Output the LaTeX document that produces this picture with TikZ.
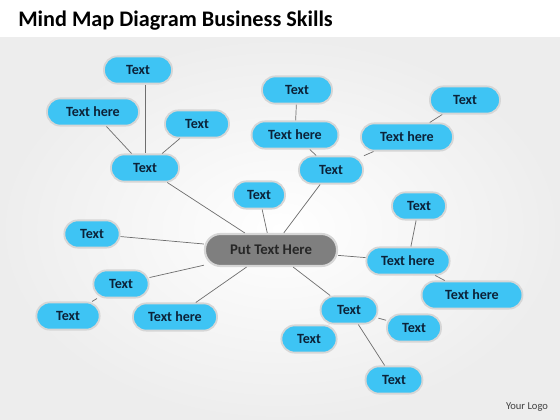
\documentclass[tikz,border=0pt]{standalone}
\usepackage{fontspec}
\setmainfont{Carlito}
\usepackage{tikz}

\definecolor{leafblue}{HTML}{3EC4F4}
\definecolor{leafedge}{HTML}{D6D6D6}
\definecolor{hubgray}{HTML}{7F7F7F}
\definecolor{inktext}{HTML}{0C2238}
\definecolor{linkgray}{HTML}{6E6E6E}

\tikzstyle{leaf} = [rectangle, rounded corners=0.33cm, minimum height=0.68cm, inner xsep=4pt, text centered, draw=leafedge, line width=1.3pt, fill=leafblue, text=inktext, font=\fontsize{10}{11}\selectfont\bfseries]
\tikzstyle{root} = [rectangle, rounded corners=0.39cm, minimum width=3.3cm, minimum height=0.8cm, text centered, draw=leafedge, line width=1.5pt, fill=hubgray, text=black!85, font=\fontsize{10.5}{12}\selectfont\bfseries]
\tikzstyle{link} = [draw=linkgray, line width=0.5pt]

\begin{document}
\begin{tikzpicture}[x=0.025cm, y=-0.025cm]

\useasboundingbox (0,0) rectangle (560,420);
\fill[white] (0,0) rectangle (560,420);
\shade[inner color=white, outer color=gray!14] (0,38) rectangle (560,420);

\node (title) [anchor=base west, inner sep=0pt, font=\fontsize{15.8}{18}\selectfont\bfseries] at (18,27) {Mind Map Diagram Business Skills};
\node (logo) [font=\fontsize{7.5}{9}\selectfont, text=black!75] at (527,407) {Your Logo};

\node (root) [root] at (271,250) {Put Text Here};

% upper left
\node (ulhub) [leaf, minimum width=1.7cm] at (145,168) {Text};
\node (ul1) [leaf, minimum width=1.7cm] at (138,70) {Text};
\node (ul2) [leaf, minimum width=2.3cm] at (93,112) {Text here};
\node (ul3) [leaf, minimum width=1.6cm] at (197,124) {Text};

% upper right
\node (urhub) [leaf, minimum width=1.6cm] at (331,170) {Text};
\node (ur1) [leaf, minimum width=1.75cm] at (297,90) {Text};
\node (ur2) [leaf, minimum width=2.17cm] at (295,135) {Text here};
\node (ur3) [leaf, minimum width=1.75cm] at (465,100) {Text};
\node (ur4) [leaf, minimum width=2.3cm] at (407,137) {Text here};

% single ones
\node (up) [leaf, minimum width=1.3cm] at (259,195) {Text};
\node (left) [leaf, minimum width=1.38cm] at (92,234) {Text};
\node (low) [leaf, minimum width=2.1cm] at (175,317) {Text here};

% lower left
\node (ll1) [leaf, minimum width=1.38cm] at (121,284) {Text};
\node (ll2) [leaf, minimum width=1.58cm] at (68,316) {Text};

% right
\node (rhub) [leaf, minimum width=2.08cm] at (408,261) {Text here};
\node (r1) [leaf, minimum width=1.35cm] at (419,206) {Text};
\node (r2) [leaf, minimum width=2.52cm] at (472,295) {Text here};

% lower right
\node (lrhub) [leaf, minimum width=1.42cm] at (349,310) {Text};
\node (lr1) [leaf, minimum width=1.35cm] at (414,328) {Text};
\node (lr2) [leaf, minimum width=1.38cm] at (309,339) {Text};
\node (lr3) [leaf, minimum width=1.42cm] at (394,380) {Text};

\draw [link] (ul1.south -| ulhub) -- (ulhub);
\draw [link] (ul2) -- (ulhub);
\draw [link] (ul3) -- (ulhub);
\draw [link] (ulhub) -- (root);
\draw [link] (ur1) -- (ur2);
\draw [link] (ur2) -- (urhub);
\draw [link] (ur3) -- (ur4);
\draw [link] (ur4) -- (urhub);
\draw [link] (urhub) -- (root);
\draw [link] (up) -- (root);
\draw [link] (left) -- (root);
\draw [link] (low) -- (root);
\draw [link] (ll1) -- (root);
\draw [link] (ll2) -- (ll1);
\draw [link] (rhub) -- (root);
\draw [link] (r1) -- (rhub);
\draw [link] (r2) -- (rhub);
\draw [link] (lrhub) -- (root);
\draw [link] (lr1) -- (lrhub);
\draw [link] (lr2) -- (lrhub);
\draw [link] (lr3) -- (lrhub);

\end{tikzpicture}
\end{document}
